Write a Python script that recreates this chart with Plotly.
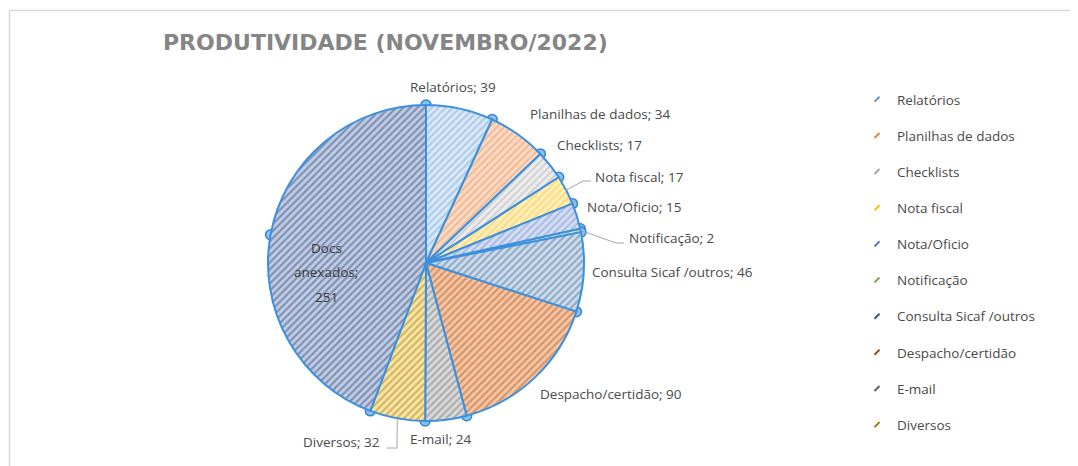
import math
import plotly.graph_objects as go

# ---------------- data ----------------
categories = ["Relatórios", "Planilhas de dados", "Checklists", "Nota fiscal",
              "Nota/Oficio", "Notificação", "Consulta Sicaf /outros",
              "Despacho/certidão", "E-mail", "Diversos", "Docs anexados"]
values = [39, 34, 17, 17, 15, 2, 46, 90, 24, 32, 251]
title_text = "PRODUTIVIDADE (NOVEMBRO/2022)"
legend_items = categories[:10]

# ---------------- styles ----------------
bg_colors = ["#DCE9F6", "#FADCC8", "#EDEDED", "#FFF0C2", "#D6DFF2", "#E2EFDA",
             "#CFDCEA", "#F6C7A6", "#DADADA", "#FBE6A6", "#C2CDE3"]
fg_colors = ["#7DB0E0", "#EE9A60", "#B5B5B5", "#FFC93A", "#7D9AD8", "#7CB454",
             "#4F7BAA", "#B8622A", "#808080", "#A8851E", "#3A5587"]
legend_colors = ["#5B9BD5", "#ED7D31", "#A5A5A5", "#FFC000", "#4472C4", "#70AD47",
                 "#255E91", "#9E480E", "#636363", "#997300"]

# page body has an 8px margin; work in reference-pixel coordinates
OFF = 8
W, H = 1078 - OFF, 466 - OFF
CX, CY, R = 426, 263, 158
FONT = "Open Sans"
TXT = "#4A4A4A"


def px(x):
    return (x - OFF) / W


def py(y):
    return 1 - (y - OFF) / H


dom_x = [px(CX - R), px(CX + R)]
dom_y = [py(CY + R), py(CY - R)]

fig = go.Figure()

fig.add_trace(go.Pie(
    labels=categories, values=values, sort=False, direction="clockwise",
    rotation=0, textinfo="none", hoverinfo="label+value", showlegend=False,
    domain=dict(x=dom_x, y=dom_y),
    marker=dict(colors=bg_colors,
                line=dict(color="#3C90DE", width=2),
                pattern=dict(shape="/", fgcolor=fg_colors, bgcolor=bg_colors,
                             size=5, solidity=0.45, fillmode="overlay")),
))

# selection handles at slice boundaries (from cumulative values)
total = sum(values)
cum = [0]
for v in values:
    cum.append(cum[-1] + v)
bound_angles = [c / total * 360 for c in cum[:-1]]
big_mid = (cum[-2] + values[-1] / 2) / total * 360
fig.add_trace(go.Scatterpolar(
    r=[1] * len(bound_angles) + [1, 0],
    theta=bound_angles + [big_mid, 0],
    mode="markers", showlegend=False, hoverinfo="skip",
    marker=dict(size=10, color="#8EC0EC", line=dict(color="#2F86D6", width=1.5)),
    subplot="polar",
))

# legend entries
for name, col in zip(legend_items, legend_colors):
    fig.add_trace(go.Scatter(
        x=[None], y=[None], mode="markers", name=name, legendgroup=name,
        marker=dict(symbol="line-ne", size=5, line=dict(color=col, width=2)),
    ))

# data labels
label_pos = {
    "Relatórios": (453, 87, "center"),
    "Planilhas de dados": (528, 114, "left"),
    "Checklists": (555, 145, "left"),
    "Nota fiscal": (593, 177, "left"),
    "Nota/Oficio": (585, 207, "left"),
    "Notificação": (627, 238, "left"),
    "Consulta Sicaf /outros": (590, 272, "left"),
    "Despacho/certidão": (538, 394, "left"),
    "E-mail": (408, 439, "left"),
    "Diversos": (382, 442, "right"),
}
annotations = []
for name, val in zip(categories, values):
    if name in label_pos:
        x, y, anc = label_pos[name]
        annotations.append(dict(
            x=px(x), y=py(y), xref="paper", yref="paper", showarrow=False,
            text=f"{name}; {val}", xanchor=anc, yanchor="middle",
            font=dict(family=FONT, size=13.5, color=TXT)))
# inside label for largest slice
docs_lines = ["Docs", "anexados;", str(values[-1])]
for line, y in zip(docs_lines, [248, 272, 297]):
    annotations.append(dict(
        x=px(326), y=py(y), xref="paper", yref="paper", showarrow=False,
        text=line, xanchor="center", yanchor="middle",
        font=dict(family=FONT, size=13.5, color="#3A3A3A")))

# leader lines
shapes = []
leaders = {
    "Nota fiscal": [(583, 181), (591, 181)],
    "Notificação": [(616, 243), (624, 243)],
    "Diversos": [(397, 448), (387, 448)],
}
for name, pts in leaders.items():
    i = categories.index(name)
    a = math.radians((cum[i] + values[i] / 2) / total * 360)
    sx, sy = CX + R * math.sin(a), CY - R * math.cos(a)
    path_pts = [(sx, sy)] + pts
    d = "M " + " L ".join(f"{px(x)},{py(y)}" for x, y in path_pts)
    shapes.append(dict(type="path", xref="paper", yref="paper", path=d,
                       line=dict(color="#A6A6A6", width=1)))

# chart frame
shapes.append(dict(type="rect", xref="paper", yref="paper",
                   x0=px(9.5), x1=1.05, y0=-0.05, y1=py(10.5),
                   line=dict(color="#D9D9D9", width=1.5)))

fig.update_layout(
    width=W, height=H,
    margin=dict(l=0, r=0, t=0, b=0),
    paper_bgcolor="white", plot_bgcolor="white",
    title=dict(text=f"<b>{title_text}</b>", x=px(163), xanchor="left",
               y=py(42), yanchor="middle",
               font=dict(family="DejaVu Sans", size=22, color="#858585")),
    polar=dict(domain=dict(x=dom_x, y=dom_y), bgcolor="rgba(0,0,0,0)",
               radialaxis=dict(visible=False, range=[0, 1]),
               angularaxis=dict(visible=False, rotation=90, direction="clockwise")),
    xaxis=dict(visible=False), yaxis=dict(visible=False),
    legend=dict(x=px(857), y=py(84), xanchor="left", yanchor="top",
                traceorder="grouped", tracegroupgap=15.6,
                font=dict(family=FONT, size=13.5, color=TXT),
                bgcolor="rgba(0,0,0,0)"),
    annotations=annotations, shapes=shapes,
)

fig.write_html("out.html")
